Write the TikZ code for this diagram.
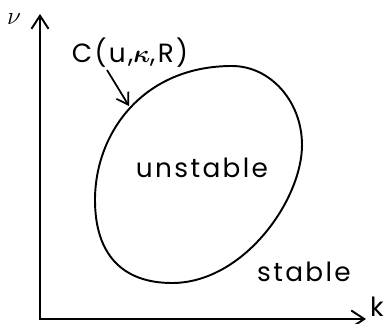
\documentclass[tikz,border=0pt]{standalone}
\usepackage{bm}
\usepackage{fontspec}
\setmainfont{Poppins}[LetterSpace=9]
\usetikzlibrary{arrows.meta}
\tikzset{
  axes/.style={line width=1.1pt,{Straight Barb[length=2.6mm,width=3.4mm]}-{Straight Barb[length=2.6mm,width=3.4mm]}},
  border/.style={line width=1.1pt},
  pointer/.style={line width=1pt,-{Straight Barb[length=2.2mm,width=2.8mm]}},
  lbl/.style={font=\fontsize{15}{18}\selectfont,inner sep=1pt}
}

\begin{document}
\begin{tikzpicture}[x=0.02cm,y=-0.02cm]
  \path[use as bounding box] (0,0) rectangle (385,324);
  % axes
  \coordinate (origin) at (40,319);
  \coordinate (ytip) at (40,14);
  \coordinate (xtip) at (366,319);
  \draw[axes] (ytip) -- (origin) -- (xtip);
  \node[lbl] (nu) at (14,19) {$\nu$};
  \node[lbl] (k) at (377,307) {k};
  % stability boundary
  \coordinate (left) at (95,200);
  \coordinate (top) at (232,66);
  \coordinate (right) at (302,145);
  \coordinate (bottom) at (172,283);
  \draw[border] (left) .. controls (95,133) and (143,66) .. (top)
    .. controls (270.5,66) and (302,101.6) .. (right)
    .. controls (302,200) and (243.5,283) .. (bottom)
    .. controls (122,283) and (95,254) .. (left) -- cycle;
  \node[lbl] (unstable) at (202,168) {unstable};
  \node[lbl] (stable) at (304,272) {stable};
  % curve label
  \node[lbl] (clabel) at (130,53) {C(u,$\bm{\kappa}$,R)};
  \coordinate (ptail) at (107,70);
  \coordinate (phead) at (129,106);
  \draw[pointer] (ptail) -- (phead);
\end{tikzpicture}
\end{document}
